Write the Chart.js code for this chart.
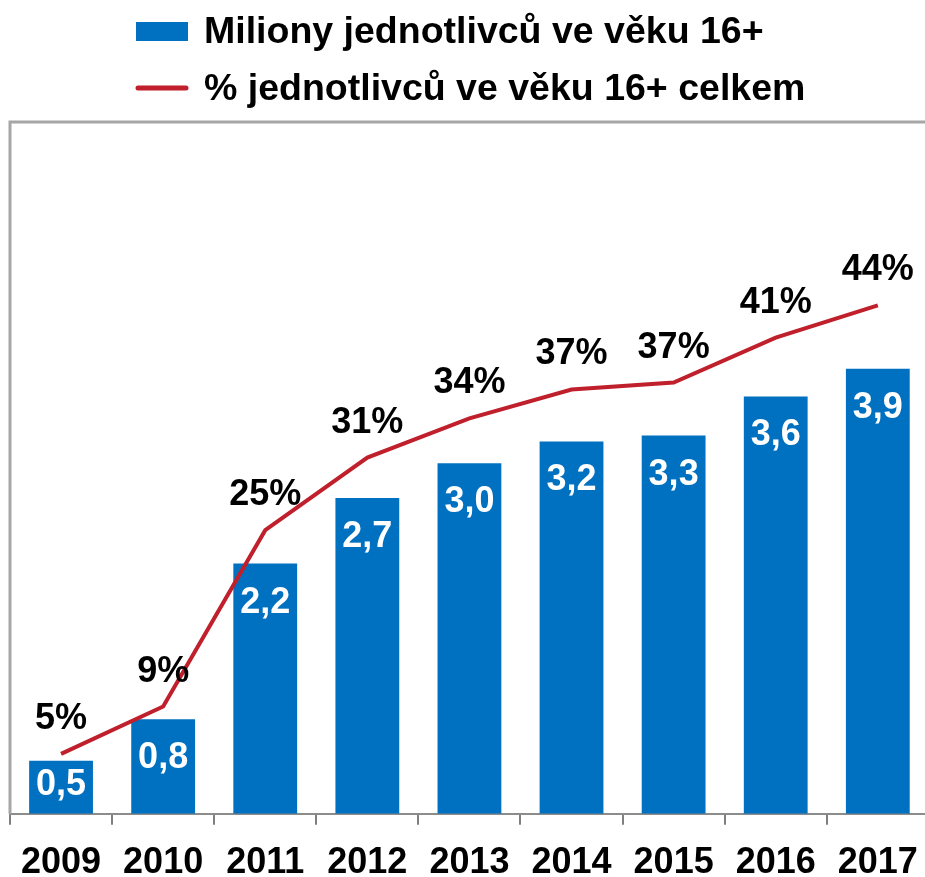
<!DOCTYPE html>
<html>
<head>
<meta charset="utf-8">
<script src="https://cdn.jsdelivr.net/npm/chart.js@4"></script>
<style>
html,body{margin:0;padding:0;background:#fff;overflow:hidden;width:925px;height:877px;}
#c{position:absolute;left:0;top:0;}
</style>
</head>
<body>
<canvas id="c" width="935" height="902" style="width:935px;height:902px"></canvas>
<script>
const years = ['2009','2010','2011','2012','2013','2014','2015','2016','2017'];
const millions = [0.46, 0.82, 2.17, 2.74, 3.04, 3.23, 3.28, 3.62, 3.86];
const percent = [5.2, 9.3, 24.6, 30.9, 34.3, 36.8, 37.4, 41.3, 44.1];
const seriesNames = ['Miliony jednotlivců ve věku 16+', '% jednotlivců ve věku 16+ celkem'];

const BLUE = '#0070C0';
const RED = '#C0202B';
const FONT = '"Liberation Sans", Arial, sans-serif';

const frameAndLegend = {
  id: 'frameAndLegend',
  beforeDatasetsDraw(chart) {
    const ctx = chart.ctx, a = chart.chartArea;
    ctx.save();
    ctx.strokeStyle = '#A6A6A6';
    ctx.lineWidth = 3;
    ctx.beginPath();
    ctx.moveTo(a.left, a.bottom);
    ctx.lineTo(a.left, a.top);
    ctx.lineTo(chart.width, a.top);
    ctx.stroke();
    ctx.restore();
  },
  afterDraw(chart) {
    const ctx = chart.ctx;
    const ds = chart.data.datasets;
    ctx.save();
    ctx.fillStyle = BLUE;
    ctx.fillRect(136, 22, 52, 19);
    ctx.fillStyle = '#000';
    ctx.font = 'bold 37.5px ' + FONT;
    ctx.textAlign = 'left';
    ctx.textBaseline = 'alphabetic';
    ctx.fillText(ds[0].label, 204, 43);
    ctx.strokeStyle = RED;
    ctx.lineWidth = 5;
    ctx.lineCap = 'round';
    ctx.beginPath();
    ctx.moveTo(138, 88);
    ctx.lineTo(186, 88);
    ctx.stroke();
    ctx.fillText(ds[1].label, 204, 100);
    ctx.restore();
  }
};

const valueLabels = {
  id: 'valueLabels',
  afterDatasetsDraw(chart) {
    const ctx = chart.ctx;
    ctx.save();
    ctx.textAlign = 'center';
    ctx.textBaseline = 'alphabetic';
    ctx.font = 'bold 36px ' + FONT;
    const barMeta = chart.getDatasetMeta(0);
    ctx.fillStyle = '#fff';
    barMeta.data.forEach((el, i) => {
      const v = chart.data.datasets[0].data[i];
      const cy = Math.min(el.y + 36, el.base - 32);
      ctx.fillText(v.toFixed(1).replace('.', ','), el.x, cy + 13);
    });
    const lineMeta = chart.getDatasetMeta(1);
    ctx.fillStyle = '#000';
    lineMeta.data.forEach((el, i) => {
      const v = chart.data.datasets[1].data[i];
      ctx.fillText(Math.round(v) + '%', el.x, el.y - 25);
    });
    ctx.restore();
  }
};

new Chart(document.getElementById('c'), {
  type: 'bar',
  data: {
    labels: years,
    datasets: [
      {
        type: 'bar',
        label: seriesNames[0],
        data: millions,
        backgroundColor: BLUE,
        borderWidth: 0,
        categoryPercentage: 1,
        barPercentage: 0.625,
        yAxisID: 'y',
        order: 2
      },
      {
        type: 'line',
        label: seriesNames[1],
        data: percent,
        borderColor: RED,
        borderWidth: 4,
        pointRadius: 0,
        tension: 0,
        fill: false,
        yAxisID: 'y1',
        order: 1
      }
    ]
  },
  options: {
    responsive: false,
    animation: false,
    devicePixelRatio: 1,
    layout: { padding: { left: 10, right: 2.5, top: 122, bottom: 0 } },
    plugins: { legend: { display: false }, tooltip: { enabled: false }, title: { display: false } },
    scales: {
      x: {
        offset: true,
        grid: { display: true, drawOnChartArea: false, drawTicks: true, tickLength: 11, color: '#7F7F7F', lineWidth: 2, offset: true },
        border: { display: true, color: '#8C8C8C', width: 2 },
        ticks: { color: '#000', font: { family: FONT, weight: 'bold', size: 36 }, padding: 17, maxRotation: 0, autoSkip: false }
      },
      y: { display: false, min: 0, max: 6 },
      y1: { display: false, min: 0, max: 60 }
    }
  },
  plugins: [frameAndLegend, valueLabels]
});
</script>
</body>
</html>
